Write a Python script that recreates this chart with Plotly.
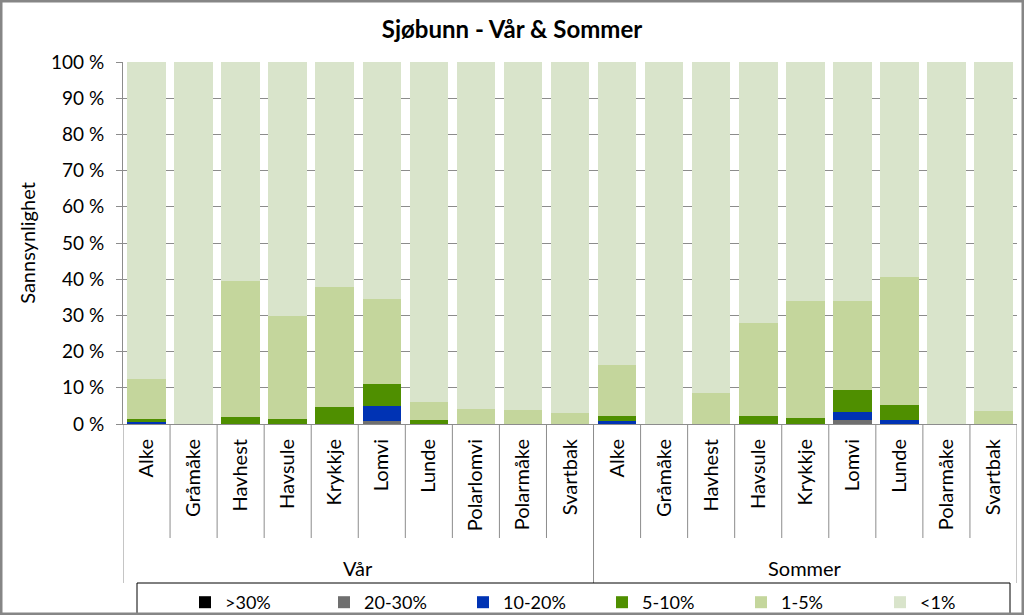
import plotly.graph_objects as go

# ---- data ----
groups = ["Vår"] * 10 + ["Sommer"] * 9
group_names = ["Vår", "Sommer"]
species = ["Alke", "Gråmåke", "Havhest", "Havsule", "Krykkje", "Lomvi", "Lunde",
           "Polarlomvi", "Polarmåke", "Svartbak",
           "Alke", "Gråmåke", "Havhest", "Havsule", "Krykkje", "Lomvi", "Lunde",
           "Polarmåke", "Svartbak"]

gt30 = [0, 0, 0, 0, 0, 0, 0, 0, 0, 0,
        0, 0, 0, 0, 0, 0, 0, 0, 0]
p20_30 = [0, 0, 0, 0, 0, 0.9, 0, 0, 0, 0,
          0, 0, 0, 0, 0, 1.0, 0, 0, 0]
p10_20 = [0.5, 0, 0, 0, 0, 4.0, 0, 0, 0, 0,
          0.7, 0, 0, 0, 0, 2.2, 1.0, 0, 0]
p5_10 = [1.0, 0, 2.0, 1.5, 4.8, 6.1, 1.2, 0, 0, 0,
         1.6, 0, 0, 2.3, 1.7, 6.2, 4.2, 0, 0]
p1_5 = [11.0, 0, 37.5, 28.2, 33.1, 23.5, 4.9, 4.1, 4.0, 3.0,
        13.9, 0, 8.7, 25.5, 32.4, 24.7, 35.5, 0, 3.7]
lt1 = [87.5, 100, 60.5, 70.3, 62.1, 65.5, 93.9, 95.9, 96.0, 97.0,
       83.8, 100, 91.3, 72.2, 65.9, 65.9, 59.3, 100, 96.3]

series_names = [">30%", "20-30%", "10-20%", "5-10%", "1-5%", "<1%"]
series_values = [gt30, p20_30, p10_20, p5_10, p1_5, lt1]
series_colors = ["#000000", "#6f6f6f", "#0033b4", "#4f8f00", "#c4d69c", "#d9e4cb"]

y_ticks = [0, 10, 20, 30, 40, 50, 60, 70, 80, 90, 100]
y_ticktext = ["0 %", "10 %", "20 %", "30 %", "40 %", "50 %", "60 %", "70 %", "80 %", "90 %", "100 %"]

# ---- figure ----
FONT = "Lato, 'Open Sans', sans-serif"
x = list(range(len(species)))

fig = go.Figure()
for name, vals, col in zip(series_names, series_values, series_colors):
    fig.add_trace(go.Bar(x=x, y=vals, name=name, marker=dict(color=col, line=dict(width=0))))

W, H = 1024, 615
L, R, T, B = 123, 7, 62, 191
pw, ph = W - L - R, H - T - B

def px_x(p):
    return (p - L) / pw

def px_y(p):
    return (H - B - p) / ph

shapes = []
# category dividers
for i in range(len(species) + 1):
    b = i - 0.5
    if i == 0 or i == len(species):
        is_group_edge = True
    else:
        is_group_edge = groups[i - 1] != groups[i]
    y_end = px_y(583) if is_group_edge else px_y(538)
    shapes.append(dict(type="line", xref="x", yref="paper", x0=b, x1=b, y0=0, y1=y_end,
                       line=dict(color="#8c8c8c", width=1)))
# legend box
shapes.append(dict(type="rect", xref="paper", yref="paper",
                   x0=px_x(137), x1=px_x(1010), y0=px_y(614), y1=px_y(583),
                   line=dict(color="#000000", width=1)))
# outer border
shapes.append(dict(type="rect", xref="paper", yref="paper",
                   x0=px_x(1), x1=px_x(1023), y0=px_y(614), y1=px_y(1),
                   line=dict(color="#868686", width=3)))

annotations = []
for g in group_names:
    idx = [i for i, gg in enumerate(groups) if gg == g]
    annotations.append(dict(x=(idx[0] + idx[-1]) / 2, y=px_y(568), xref="x", yref="paper",
                            text=g, showarrow=False, xanchor="center", yanchor="middle",
                            font=dict(family=FONT, size=20, color="#000000")))

fig.update_layout(
    width=W, height=H,
    margin=dict(l=L, r=R, t=T, b=B, autoexpand=False),
    paper_bgcolor="white", plot_bgcolor="white",
    barmode="stack", bargap=0.18,
    font=dict(family=FONT, size=18, color="#000000"),
    title=dict(text="<b>Sjøbunn - Vår & Sommer</b>", x=0.5, xref="container",
               xanchor="center", y=1 - 30 / H, yanchor="middle",
               font=dict(family=FONT, size=24, color="#000000")),
    xaxis=dict(range=[-0.5, len(species) - 0.5], tickmode="array", tickvals=x, ticktext=species,
               tickangle=-90, showgrid=False, zeroline=False, showline=True,
               linecolor="#8c8c8c", linewidth=1, ticks="", fixedrange=True,
               ticklabelstandoff=6,
               tickfont=dict(family=FONT, size=20)),
    yaxis=dict(range=[0, 100], tickmode="array", tickvals=y_ticks, ticktext=y_ticktext,
               showgrid=True, gridcolor="#8c8c8c", gridwidth=1, zeroline=False,
               showline=True, linecolor="#8c8c8c", linewidth=1,
               ticks="outside", ticklen=6, tickcolor="#8c8c8c", ticklabelstandoff=8,
               title=dict(text="Sannsynlighet", standoff=10, font=dict(family=FONT, size=20)),
               tickfont=dict(family=FONT, size=19)),
    legend=dict(orientation="h", traceorder="normal", xref="container", yref="container",
                x=185 / W, y=1 - 584 / H,
                xanchor="left", yanchor="top", borderwidth=0, bgcolor="rgba(0,0,0,0)",
                entrywidth=94, entrywidthmode="pixels",
                font=dict(family=FONT, size=18)),
    shapes=shapes,
    annotations=annotations,
    showlegend=True,
)

fig.write_html("out.html")
